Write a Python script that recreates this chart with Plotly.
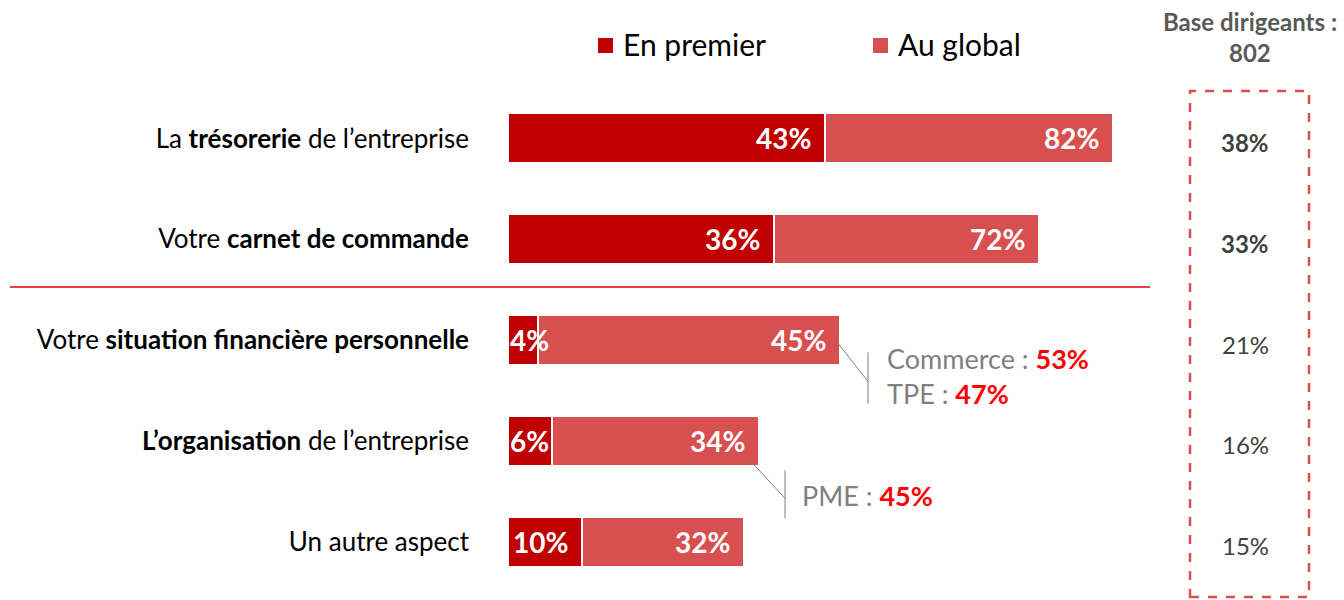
import plotly.graph_objects as go

# ---- data ----
categories = [
    "La <b>trésorerie</b> de l’entreprise",
    "Votre <b>carnet de commande</b>",
    "Votre <b>situation financière personnelle</b>",
    "<b>L’organisation</b> de l’entreprise",
    "Un autre aspect",
]
en_premier = [43, 36, 4, 6, 10]
au_global = [82, 72, 45, 34, 32]
base_dirigeants = [38, 33, 21, 16, 15]
base_title = "Base dirigeants :"
base_n = 802
callout_commerce = 53
callout_tpe = 47
callout_pme = 45

# ---- style ----
FONT = "Lato, 'Open Sans', sans-serif"
DARK = "#C00000"
LIGHT = "#D84F50"
GREY = "#7F7F7F"
PX_PER_UNIT = 7.38   # plot width 738 px over range 0..100
L, R, T, B = 508, 98, 88, 8
W, H = 1344, 600
PH = H - T - B


def px_x(px):
    return (px - L) / (W - L - R)


def px_y(py):
    return (H - B - py) / PH


ys = list(range(len(categories)))
rest = [g - p for g, p in zip(au_global, en_premier)]

fig = go.Figure()
fig.add_trace(go.Bar(
    y=ys, x=en_premier, orientation="h", name="En premier",
    marker=dict(color=DARK, line=dict(color="white", width=2)),
    width=0.495, hoverinfo="skip",
))
fig.add_trace(go.Bar(
    y=ys, x=rest, base=en_premier, orientation="h", name="Au global",
    marker=dict(color=LIGHT, line=dict(color="white", width=2)),
    width=0.495, hoverinfo="skip",
))

LBL = dict(family=FONT, size=28, color="white")
annotations = []
# data labels
for i, (p, g) in enumerate(zip(en_premier, au_global)):
    if p < 8:
        annotations.append(dict(x=0, y=i, xref="x", yref="y", text=f"<b>{p}%</b>",
                                xanchor="left", xshift=0, showarrow=False, font=LBL))
    else:
        annotations.append(dict(x=p, y=i, xref="x", yref="y", text=f"<b>{p}%</b>",
                                xanchor="right", xshift=-12, showarrow=False, font=LBL))
    annotations.append(dict(x=g, y=i, xref="x", yref="y", text=f"<b>{g}%</b>",
                            xanchor="right", xshift=-12, showarrow=False, font=LBL))

# right column values
for i, v in enumerate(base_dirigeants):
    txt = f"<b>{v}%</b>" if i < 2 else f"{v}%"
    annotations.append(dict(x=px_x(1245), y=i, xref="paper", yref="y", text=txt,
                            xanchor="center", showarrow=False, yshift=-4,
                            font=dict(family=FONT, size=24, color="#404040")))
annotations.append(dict(x=px_x(1250), y=px_y(21), xref="paper", yref="paper",
                        text=f"<b>{base_title}</b>", xanchor="center", yanchor="middle",
                        showarrow=False, font=dict(family=FONT, size=24, color="#595959")))
annotations.append(dict(x=px_x(1250), y=px_y(52), xref="paper", yref="paper",
                        text=f"<b>{base_n}</b>", xanchor="center", yanchor="middle",
                        showarrow=False, font=dict(family=FONT, size=24, color="#595959")))

# legend
leg_items = [("En premier", DARK, 598), ("Au global", LIGHT, 873)]
shapes = []
for name, col, x0 in leg_items:
    shapes.append(dict(type="rect", xref="paper", yref="paper",
                       x0=px_x(x0), x1=px_x(x0 + 15), y0=px_y(53), y1=px_y(38),
                       fillcolor=col, line=dict(width=0)))
    annotations.append(dict(x=px_x(x0 + 23), y=px_y(44), xref="paper", yref="paper",
                            text=name, xanchor="left", yanchor="middle", showarrow=False,
                            font=dict(family=FONT, size=30, color="black")))

# callouts
def yd(py):
    return (py - 138) / 100.8


def xd(px):
    return (px - L) / PX_PER_UNIT


CF = dict(family=FONT, size=27, color=GREY)
annotations.append(dict(x=xd(885), y=yd(358), xref="x", yref="y", xanchor="left",
                        text=f"Commerce : <b><span style='color:#FF0000'>{callout_commerce}%</span></b>",
                        showarrow=False, font=CF))
annotations.append(dict(x=xd(885), y=yd(393), xref="x", yref="y", xanchor="left",
                        text=f"TPE : <b><span style='color:#FF0000'>{callout_tpe}%</span></b>",
                        showarrow=False, font=CF))
annotations.append(dict(x=xd(800), y=yd(495), xref="x", yref="y", xanchor="left",
                        text=f"PME : <b><span style='color:#FF0000'>{callout_pme}%</span></b>",
                        showarrow=False, font=CF))

gl = dict(color=GREY, width=1)
shapes += [
    dict(type="line", xref="x", yref="y", x0=xd(838), y0=yd(343), x1=xd(868), y1=yd(381), line=gl),
    dict(type="line", xref="x", yref="y", x0=xd(868), y0=yd(352), x1=xd(868), y1=yd(403), line=gl),
    dict(type="line", xref="x", yref="y", x0=xd(750), y0=yd(460), x1=xd(785), y1=yd(498), line=gl),
    dict(type="line", xref="x", yref="y", x0=xd(785), y0=yd(470), x1=xd(785), y1=yd(518), line=gl),
]

# separator
shapes.append(dict(type="line", xref="paper", yref="paper", x0=px_x(10), x1=px_x(1150),
                   y0=px_y(287), y1=px_y(287), line=dict(color="#E00000", width=1.6)))
# dashed box
shapes.append(dict(type="rect", xref="paper", yref="paper",
                   x0=px_x(1190), x1=px_x(1309), y0=px_y(597), y1=px_y(91),
                   line=dict(color=LIGHT, width=2.5, dash="dash"), fillcolor="rgba(0,0,0,0)"))

fig.update_layout(
    barmode="stack",
    width=W, height=H,
    margin=dict(l=L, r=R, t=T, b=B),
    paper_bgcolor="white", plot_bgcolor="white",
    showlegend=False,
    annotations=annotations,
    shapes=shapes,
    xaxis=dict(range=[0, 100], visible=False, fixedrange=True),
    yaxis=dict(range=[4.5, -0.5], tickvals=ys, ticktext=categories,
               showgrid=False, zeroline=False, showline=False, ticks="",
               ticklabelstandoff=38, automargin=False,
               tickfont=dict(family=FONT, size=26, color="black"), fixedrange=True),
)

fig.write_html("out.html", config={"displayModeBar": False},
               post_script="document.body.style.margin='0';")
